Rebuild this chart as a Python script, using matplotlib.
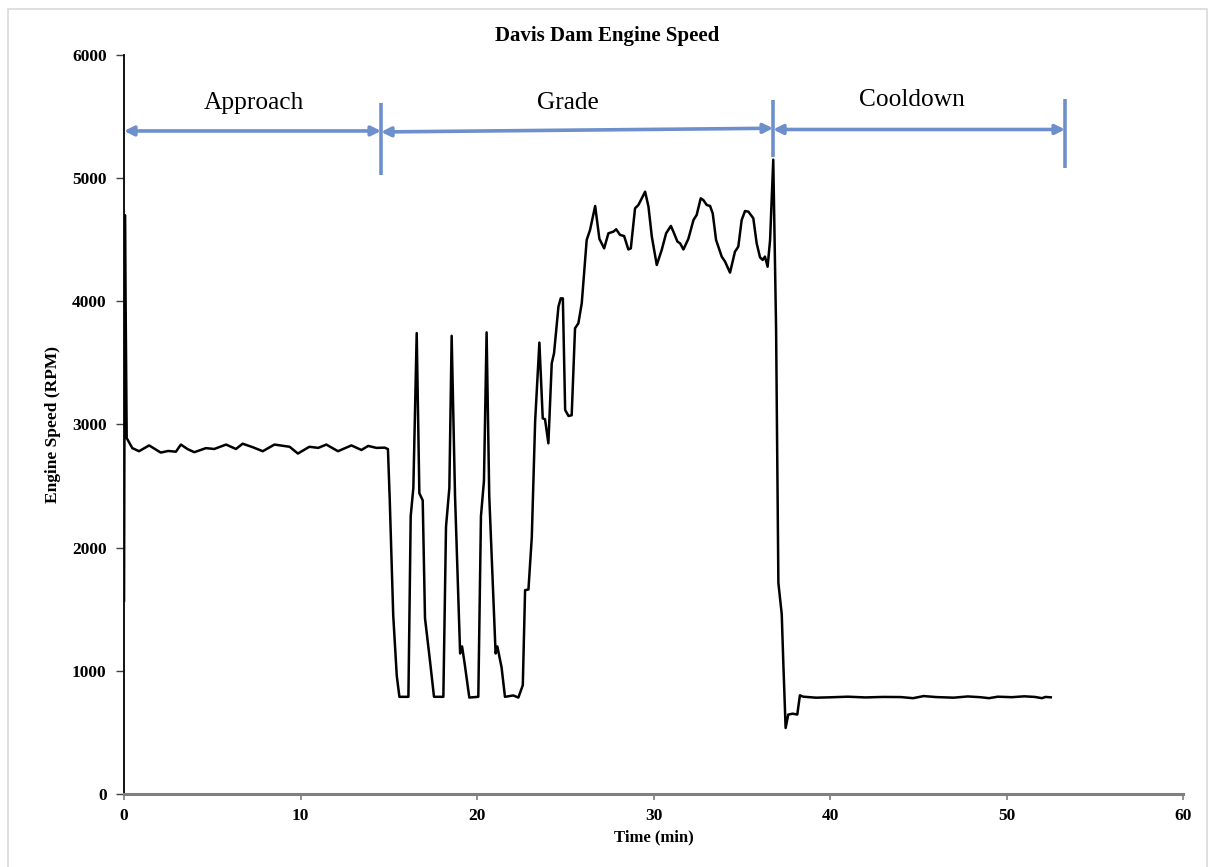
import matplotlib
matplotlib.use("Agg")
import matplotlib.pyplot as plt
from matplotlib.patches import Rectangle

# engine speed trace (time in min, speed in RPM)
time_min = [
    0.0, 0.05, 0.15, 0.47, 0.85, 1.42, 2.08, 2.5, 2.94, 3.22, 3.6, 3.98, 4.64, 5.11,
    5.78, 6.34, 6.72, 7.3, 7.86, 8.52, 9.38, 9.85, 10.5, 11.0, 11.46, 12.12, 12.88,
    13.45, 13.83, 14.3, 14.77, 14.95, 15.05, 15.25, 15.45, 15.6, 16.11, 16.24, 16.39,
    16.58, 16.73, 16.92, 17.05, 17.33, 17.56, 18.09, 18.24, 18.43, 18.56, 18.75, 19.04,
    19.15, 19.3, 19.56, 20.07, 20.22, 20.39, 20.54, 20.69, 21.05, 21.15, 21.39, 21.58,
    22.05, 22.34, 22.59, 22.72, 22.91, 23.1, 23.29, 23.53, 23.72, 23.85, 24.04, 24.23,
    24.36, 24.61, 24.74, 24.86, 24.99, 25.18, 25.36, 25.55, 25.74, 25.93, 26.21, 26.4,
    26.69, 26.93, 27.2, 27.44, 27.73, 27.88, 28.1, 28.33, 28.57, 28.71, 28.95, 29.14,
    29.33, 29.52, 29.71, 29.9, 30.18, 30.46, 30.71, 30.98, 31.12, 31.35, 31.5, 31.69,
    31.97, 32.26, 32.44, 32.67, 32.82, 33.01, 33.2, 33.35, 33.54, 33.86, 34.05, 34.33,
    34.61, 34.8, 34.99, 35.18, 35.37, 35.65, 35.84, 36.03, 36.18, 36.31, 36.46, 36.6,
    36.78, 36.94, 37.07, 37.26, 37.35, 37.48, 37.63, 37.88, 38.14, 38.29, 38.48, 39.2,
    40.0, 41.0, 42.0, 43.0, 44.0, 44.7, 45.3, 46.0, 47.0, 47.8, 48.5, 49.0, 49.5, 50.3,
    51.0, 51.6, 52.0, 52.2, 52.5,
]
rpm = [
    1570, 4700, 2890, 2808, 2783, 2830, 2772, 2785, 2779, 2837, 2800, 2775, 2808, 2801,
    2837, 2801, 2844, 2815, 2783, 2837, 2819, 2764, 2819, 2810, 2837, 2783, 2830,
    2793, 2826, 2810, 2812, 2800, 2400, 1450, 960, 789, 789, 2256, 2485,
    3742, 2442, 2384, 1427, 1084, 789, 789, 2170, 2485, 3720, 2427, 1141,
    1198, 1055, 783, 789, 2256, 2542, 3748, 2420, 1141, 1198, 1026, 789,
    800, 783, 883, 1655, 1660, 2084, 3028, 3665, 3050, 3042, 2847, 3497,
    3578, 3957, 4024, 4024, 3118, 3069, 3075, 3781, 3822, 3984, 4498, 4579,
    4774, 4507, 4430, 4552, 4566, 4585, 4539, 4530, 4421, 4430, 4755, 4782,
    4836, 4890, 4769, 4525, 4295, 4417, 4552, 4612, 4566, 4485, 4471, 4421,
    4507, 4660, 4701, 4836, 4822, 4782, 4774, 4714, 4498, 4363, 4322, 4233,
    4403, 4444, 4660, 4733, 4728, 4674, 4471, 4357, 4336, 4363, 4281, 4498,
    5150, 3779, 1714, 1460, 1062, 536, 645, 652, 645, 801, 790, 782,
    785, 790, 784, 788, 787, 778, 795, 787, 782, 792, 786, 778, 790, 786,
    793, 788, 778, 788, 785,
]

# phase markers: boundaries (min) and labels
phase_bounds = [0, 14.56, 36.77, 53.31]
phase_names = ["Approach", "Grade", "Cooldown"]
phase_label_x = [7.37, 25.16, 44.65]

x_ticks = [0, 10, 20, 30, 40, 50, 60]
y_ticks = [0, 1000, 2000, 3000, 4000, 5000, 6000]

serif = ["Liberation Serif", "DejaVu Serif"]
blue = "#6d8fcb"

fig = plt.figure(figsize=(12.09, 8.67), dpi=100)
fig.patches.append(Rectangle((0.0066, -0.01), 0.9917, 1.0, transform=fig.transFigure,
                             fill=False, edgecolor="#d9d9d9", linewidth=1.2))
ax = fig.add_axes([0.1026, 0.0842, 0.876, 0.8524])

ax.plot(time_min, rpm, color="black", linewidth=1.8, zorder=3)

ax.set_xlim(0, 60)
ax.set_ylim(0, 6000)
ax.set_xticks(x_ticks)
ax.set_yticks(y_ticks)
ax.tick_params(axis="y", direction="out", length=6, width=1, color="#404040", pad=6.5)
ax.tick_params(axis="x", direction="out", length=4, width=1.2, color="#7f7f7f", pad=6)
for lab in ax.get_xticklabels() + ax.get_yticklabels():
    lab.set_family(serif)
    lab.set_fontweight("bold")
    lab.set_fontsize(12.5)

for side in ["top", "right"]:
    ax.spines[side].set_visible(False)
ax.spines["left"].set_color("black")
ax.spines["left"].set_linewidth(1.3)
ax.spines["bottom"].set_color("#808080")
ax.spines["bottom"].set_linewidth(2.2)

fig.text(0.502, 1 - 41 / 867, "Davis Dam Engine Speed", family=serif,
         fontweight="bold", fontsize=15, ha="center", va="baseline")
ax.set_xlabel("Time (min)", family=serif, fontweight="bold", fontsize=12, labelpad=4)
ax.set_ylabel("Engine Speed (RPM)", family=serif, fontweight="bold", fontsize=12.5,
              labelpad=8)

# double-headed arrows for each phase
arrow_y = [(5383, 5383), (5375, 5405), (5395, 5395)]
label_y = [5560, 5560, 5585]
for i in range(3):
    ax.annotate("", xy=(phase_bounds[i + 1], arrow_y[i][1]),
                xytext=(phase_bounds[i], arrow_y[i][0]),
                arrowprops=dict(arrowstyle="<|-|>", color=blue, lw=2.6,
                                mutation_scale=14, shrinkA=0, shrinkB=0),
                annotation_clip=False, zorder=4)
    ax.text(phase_label_x[i], label_y[i], phase_names[i], family=serif, fontsize=18.3,
            ha="center", va="baseline")

# vertical separators
sep_lo = [5026, 5172, 5082]
sep_hi = [5606, 5635, 5643]
for i in range(3):
    ax.plot([phase_bounds[i + 1]] * 2, [sep_lo[i], sep_hi[i]], color=blue,
            linewidth=2.6, solid_capstyle="butt", zorder=4)

fig.savefig("out.png", dpi=100)
